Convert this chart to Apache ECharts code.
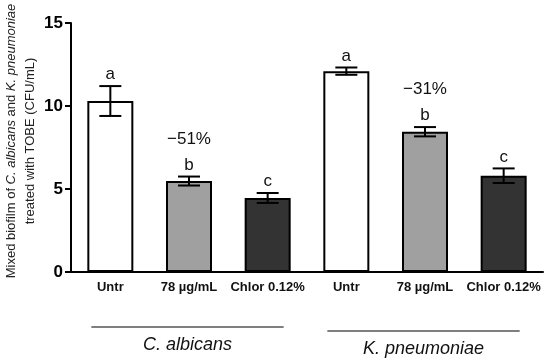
<!DOCTYPE html>
<html><head><meta charset="utf-8">
<script src="https://cdn.jsdelivr.net/npm/echarts@6/dist/echarts.min.js"></script>
<style>html,body{margin:0;padding:0;background:#fff}#c{width:550px;height:360px}</style>
</head><body><div id="c"></div>
<script>
const categories = ['Untr', '78 µg/mL', 'Chlor 0.12%', 'Untr', '78 µg/mL', 'Chlor 0.12%'];
const means = [10.3, 5.48, 4.46, 12.1, 8.45, 5.8];
const errors = [0.9, 0.27, 0.3, 0.22, 0.28, 0.44];
const letters = ['a', 'b', 'c', 'a', 'b', 'c'];
const percents = ['', '\u221251%', '', '', '\u221231%', ''];
const barColors = ['#ffffff', '#a0a0a0', '#333333', '#ffffff', '#a0a0a0', '#333333'];
const groups = [{name: 'C. albicans', from: 0, to: 2}, {name: 'K. pneumoniae', from: 3, to: 5}];
const yTicks = [0, 5, 10, 15];
const yTitle = 'Mixed biofilm of {i|C. albicans} and {i|K. pneumoniae}\ntreated with TOBE (CFU/mL)';

const FONT = 'Liberation Sans, Arial, sans-serif';
const chart = echarts.init(document.getElementById('c'), null, {renderer: 'canvas'});
const errData = means.map((m, i) => [i, m - errors[i], m + errors[i]]);

chart.setOption({
  animation: false,
  grid: {left: 71, right: 7, top: 23, bottom: 88, containLabel: false, outerBoundsMode: 'none'},
  xAxis: {
    type: 'category', data: categories,
    axisLine: {lineStyle: {color: '#000', width: 2}},
    axisTick: {alignWithLabel: true, length: 5, lineStyle: {color: '#000', width: 2}},
    axisLabel: {color: '#111', fontFamily: FONT, fontWeight: 'bold', fontSize: 13, margin: 9, interval: 0}
  },
  yAxis: {
    type: 'value', min: yTicks[0], max: yTicks[yTicks.length - 1], interval: 5,
    axisLine: {show: true, lineStyle: {color: '#000', width: 2}},
    axisTick: {show: true, length: 6, lineStyle: {color: '#000', width: 2}},
    splitLine: {show: false},
    axisLabel: {color: '#000', fontFamily: FONT, fontWeight: 'bold', fontSize: 17, margin: 8}
  },
  series: [
    {
      type: 'bar', barWidth: 46,
      data: means.map((v, i) => ({value: v, itemStyle: {color: barColors[i]}})),
      itemStyle: {borderColor: '#000', borderWidth: 2}
    },
    {
      type: 'custom', z: 5,
      data: errData,
      renderItem: function (params, api) {
        const i = api.value(0);
        const lo = api.coord([i, api.value(1)]);
        const hi = api.coord([i, api.value(2)]);
        const hw = 11;
        const st = {stroke: '#000', lineWidth: 2};
        const children = [
          {type: 'line', shape: {x1: hi[0], y1: hi[1], x2: lo[0], y2: lo[1]}, style: st},
          {type: 'line', shape: {x1: hi[0] - hw, y1: hi[1], x2: hi[0] + hw, y2: hi[1]}, style: st},
          {type: 'line', shape: {x1: lo[0] - hw, y1: lo[1], x2: lo[0] + hw, y2: lo[1]}, style: st},
          {type: 'text', style: {text: letters[i], x: hi[0], y: hi[1] - 3, align: 'center', verticalAlign: 'bottom',
            font: '17px ' + FONT, fill: '#111'}}
        ];
        if (percents[i]) {
          children.push({type: 'text', style: {text: percents[i], x: hi[0], y: hi[1] - 29, align: 'center', verticalAlign: 'bottom',
            font: '17px ' + FONT, fill: '#111'}});
        }
        return {type: 'group', children: children};
      }
    }
  ]
});

const gfx = [{
  type: 'text', x: 21, y: 141, rotation: Math.PI / 2,
  style: {
    text: yTitle, align: 'center', verticalAlign: 'middle',
    fontFamily: FONT, fontSize: 13, lineHeight: 19, fill: '#222',
    rich: {i: {fontStyle: 'italic', fontFamily: FONT, fontSize: 13, fill: '#222'}}
  }
}];
const yLine = [327, 331];
groups.forEach((g, k) => {
  const a = chart.convertToPixel({xAxisIndex: 0}, g.from);
  const b = chart.convertToPixel({xAxisIndex: 0}, g.to);
  const x1 = a - 19, x2 = b + 16;
  gfx.push({type: 'line', shape: {x1: x1, y1: yLine[k], x2: x2, y2: yLine[k]}, style: {stroke: '#000', lineWidth: 1.2}});
  gfx.push({type: 'text', style: {text: g.name, x: (x1 + x2) / 2, y: yLine[k] + 18, align: 'center', verticalAlign: 'middle',
    font: 'italic 18px ' + FONT, fill: '#111'}});
});
chart.setOption({graphic: gfx});
</script></body></html>
